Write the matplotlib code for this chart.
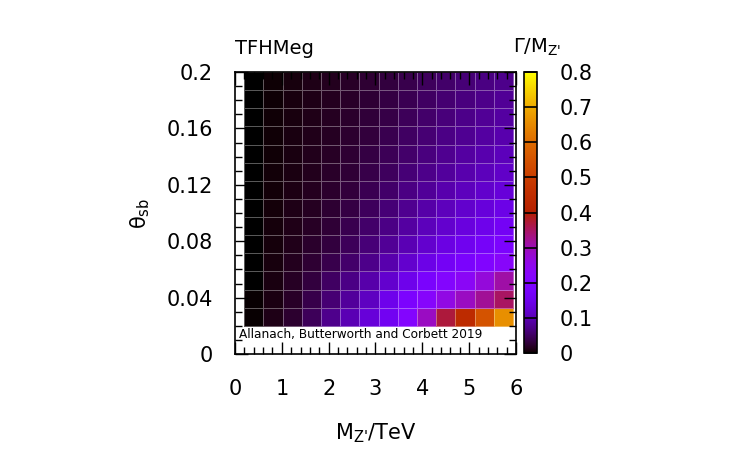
import matplotlib
matplotlib.use("Agg")
import matplotlib.pyplot as plt
import numpy as np

# Z' mass (TeV) and theta_sb at the cell centres
m_zp = [0.40, 0.81, 1.22, 1.63, 2.04, 2.45, 2.86, 3.27, 3.68, 4.09, 4.50, 4.91, 5.32, 5.73]
theta_sb = [0.0264, 0.0393, 0.0521, 0.0650, 0.0779, 0.0907, 0.1036,
            0.1164, 0.1293, 0.1421, 0.1550, 0.1679, 0.1807, 0.1936]

# Gamma/M_Z', one row per theta_sb value (bottom to top)
width = [
    [0.001, 0.011, 0.024, 0.046, 0.075, 0.100, 0.130, 0.160, 0.210, 0.290, 0.370, 0.440, 0.550, 0.660],
    [0.001, 0.009, 0.020, 0.038, 0.060, 0.083, 0.110, 0.150, 0.190, 0.220, 0.260, 0.290, 0.320, 0.350],
    [0.000, 0.008, 0.018, 0.032, 0.050, 0.070, 0.093, 0.120, 0.150, 0.185, 0.210, 0.235, 0.270, 0.310],
    [0.000, 0.007, 0.015, 0.026, 0.039, 0.055, 0.073, 0.095, 0.120, 0.145, 0.165, 0.185, 0.205, 0.225],
    [0.000, 0.006, 0.013, 0.022, 0.032, 0.046, 0.062, 0.080, 0.100, 0.120, 0.140, 0.155, 0.172, 0.190],
    [0.000, 0.0055, 0.012, 0.019, 0.028, 0.040, 0.054, 0.070, 0.087, 0.105, 0.120, 0.135, 0.150, 0.165],
    [0.000, 0.005, 0.011, 0.017, 0.025, 0.035, 0.047, 0.061, 0.077, 0.092, 0.106, 0.119, 0.132, 0.145],
    [0.000, 0.0045, 0.010, 0.016, 0.023, 0.031, 0.042, 0.054, 0.069, 0.082, 0.095, 0.107, 0.118, 0.130],
    [0.000, 0.004, 0.009, 0.0145, 0.021, 0.028, 0.037, 0.048, 0.061, 0.073, 0.084, 0.095, 0.105, 0.115],
    [0.000, 0.0038, 0.0085, 0.0135, 0.019, 0.026, 0.034, 0.044, 0.055, 0.066, 0.077, 0.087, 0.096, 0.105],
    [0.000, 0.0035, 0.008, 0.0125, 0.0175, 0.024, 0.031, 0.040, 0.050, 0.060, 0.070, 0.078, 0.087, 0.095],
    [0.000, 0.0033, 0.0075, 0.0118, 0.0165, 0.022, 0.029, 0.036, 0.046, 0.055, 0.064, 0.072, 0.080, 0.087],
    [0.000, 0.0031, 0.0072, 0.0112, 0.0157, 0.021, 0.027, 0.034, 0.042, 0.050, 0.059, 0.066, 0.073, 0.080],
    [0.000, 0.003, 0.007, 0.011, 0.015, 0.020, 0.026, 0.032, 0.039, 0.047, 0.054, 0.061, 0.068, 0.074],
]


def edges(c):
    c = np.asarray(c)
    mid = (c[1:] + c[:-1]) / 2
    return np.concatenate([[c[0] - (mid[0] - c[0])], mid, [c[-1] + (c[-1] - mid[-1])]])


plt.rcParams['font.family'] = ['DejaVu Sans']
cmap = matplotlib.colormaps['gnuplot'].resampled(1024)

fig = plt.figure(figsize=(7.5, 4.5), dpi=100)
ax = fig.add_axes([0.3133, 0.2133, 0.3747, 0.6267])
cax = fig.add_axes([0.6987, 0.2155, 0.0173, 0.6245])

mesh = ax.pcolormesh(edges(m_zp), edges(theta_sb), np.array(width),
                     cmap=cmap, vmin=0, vmax=0.8,
                     edgecolors=(1, 1, 1, 0.35), linewidth=0.7)

ax.set_xlim(0, 6)
ax.set_ylim(0, 0.2)
ax.set_xticks(np.arange(0, 7, 1))
ax.set_xticks(np.arange(0, 6.01, 0.2), minor=True)
ax.set_yticks([0, 0.04, 0.08, 0.12, 0.16, 0.2])
ax.set_yticklabels(['0', '0.04', '0.08', '0.12', '0.16', '0.2'])
ax.set_yticks(np.arange(0, 0.201, 0.01), minor=True)
ax.tick_params(which='both', direction='in', top=True, right=True, labelsize=15, width=1)
ax.tick_params(axis='x', which='major', length=9, pad=18)
ax.tick_params(axis='y', which='major', length=9, pad=16)
ax.tick_params(which='minor', length=5)
for s in ax.spines.values():
    s.set_linewidth(1.2)

ax.set_xlabel("M$_{\\mathregular{Z}\\text{'}}$/TeV", fontsize=15, labelpad=16)
ax.set_ylabel("θ$_{\\mathregular{sb}}$", fontsize=15, labelpad=10)
ax.text(0.0, 1.05, 'TFHMeg', transform=ax.transAxes, fontsize=14, ha='left', va='bottom')
ax.text(0.085, 0.0135, 'Allanach, Butterworth and Corbett 2019', fontsize=8.7,
        ha='left', va='center')

cb = fig.colorbar(mesh, cax=cax)
cb.set_ticks(np.arange(0, 0.81, 0.1))
cb.set_ticklabels(['0', '0.1', '0.2', '0.3', '0.4', '0.5', '0.6', '0.7', '0.8'])
cax.tick_params(direction='in', length=9, width=1.2, left=True, right=False,
                labelright=True, labelsize=15, pad=16)
cax.minorticks_off()
cb.outline.set_linewidth(1.2)
fig.text(0.684, 0.872, "Γ/M$_{\\mathregular{Z}\\text{'}}$", fontsize=14, ha='left', va='bottom')

fig.savefig('out.png', dpi=100)
